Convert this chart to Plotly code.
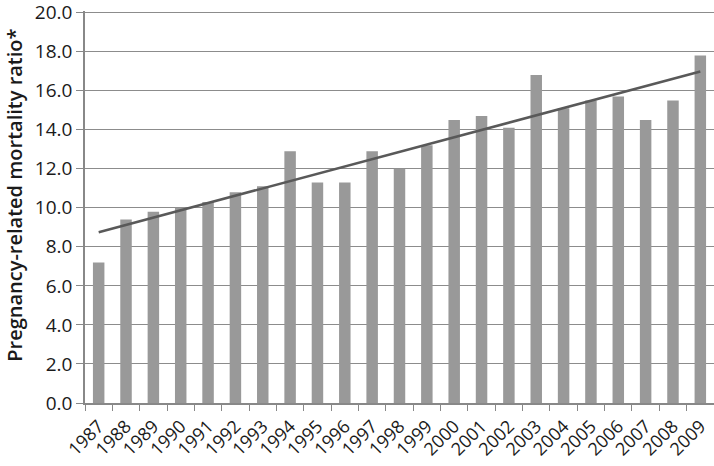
import plotly.graph_objects as go

years = ["1987", "1988", "1989", "1990", "1991", "1992", "1993", "1994", "1995",
         "1996", "1997", "1998", "1999", "2000", "2001", "2002", "2003", "2004",
         "2005", "2006", "2007", "2008", "2009"]
ratio = [7.2, 9.4, 9.8, 10.0, 10.3, 10.8, 11.1, 12.9, 11.3, 11.3, 12.9, 12.0,
         13.2, 14.5, 14.7, 14.1, 16.8, 15.1, 15.5, 15.7, 14.5, 15.5, 17.8]
trend_years = ["1987", "2009"]
trend_values = [8.75, 16.98]
y_ticks = [0, 2, 4, 6, 8, 10, 12, 14, 16, 18, 20]
y_title = "Pregnancy-related mortality ratio*"

font_family = "Open Sans, Noto Sans, sans-serif"

fig = go.Figure()
fig.add_trace(go.Bar(x=years, y=ratio, marker=dict(color="#999999", line=dict(width=0)),
                     showlegend=False))
fig.add_trace(go.Scatter(x=trend_years, y=trend_values, mode="lines",
                         line=dict(color="#595959", width=2.5), showlegend=False))

fig.update_layout(
    width=714, height=466,
    margin=dict(l=85, r=0, t=11, b=63, autoexpand=False),
    paper_bgcolor="white", plot_bgcolor="white",
    bargap=0.58,
    font=dict(family=font_family, size=16, color="#1a1a1a"),
)
fig.update_xaxes(
    type="category", tickangle=-45, tickson="boundaries",
    ticks="outside", ticklen=6, tickcolor="#888888",
    showline=True, linecolor="#888888", linewidth=1.5,
    showgrid=False, tickfont=dict(size=18), automargin=False,
    ticklabelstandoff=4,
)
fig.update_yaxes(
    range=[0, 20.08], tickvals=y_ticks, tickformat=".1f",
    ticks="outside", ticklen=7, tickcolor="#888888",
    showline=True, linecolor="#888888", linewidth=1.5,
    showgrid=True, gridcolor="#8c8c8c", gridwidth=1.2,
    zeroline=False, tickfont=dict(size=19), automargin=False,
    ticklabeloverflow="allow",
)
fig.add_annotation(
    text=y_title, textangle=-90, showarrow=False,
    xref="paper", yref="paper", x=-0.112, y=0.53,
    xanchor="center", yanchor="middle",
    font=dict(size=20, weight=600, color="#1a1a1a"),
)
fig.write_html("out.html", config={"displayModeBar": False},
               post_script="document.body.style.margin='0px';")
